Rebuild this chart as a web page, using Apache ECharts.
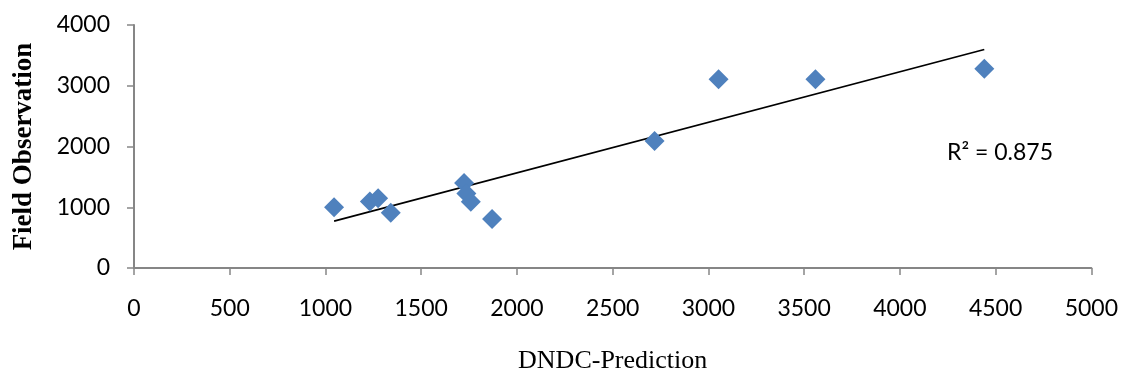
<!DOCTYPE html>
<html>
<head>
<meta charset="utf-8">
<script src="https://cdn.jsdelivr.net/npm/echarts@6/dist/echarts.min.js"></script>
<style>
html,body{margin:0;padding:0;background:#fff;}
#c{width:1121px;height:379px;}
</style>
</head>
<body>
<div id="c"></div>
<script>
const dndcPrediction = [1045, 1232, 1275, 1341, 1724, 1736, 1759, 1870, 2719, 3053, 3559, 4441];
const fieldObservation = [1000, 1095, 1150, 910, 1400, 1225, 1090, 805, 2090, 3105, 3105, 3280];
const xTicks = [0, 500, 1000, 1500, 2000, 2500, 3000, 3500, 4000, 4500, 5000];
const yTicks = [0, 1000, 2000, 3000, 4000];
const r2Label = 'R² = 0.875';

const pts = dndcPrediction.map((x, i) => [x, fieldObservation[i]]);
const n = pts.length;
const mx = dndcPrediction.reduce((a, b) => a + b, 0) / n;
const my = fieldObservation.reduce((a, b) => a + b, 0) / n;
let sxy = 0, sxx = 0;
pts.forEach(([x, y]) => { sxy += (x - mx) * (y - my); sxx += (x - mx) * (x - mx); });
const slope = sxy / sxx, intercept = my - slope * mx;
const xmin = Math.min(...dndcPrediction), xmax = Math.max(...dndcPrediction);
const trend = [[xmin, intercept + slope * xmin], [xmax, intercept + slope * xmax]];

const axisCol = '#868686';
const tickFont = {fontFamily: 'Lato', fontSize: 23, lineHeight: 23, color: '#000', formatter: v => String(v)};

const chart = echarts.init(document.getElementById('c'), null, {renderer: 'canvas'});
chart.setOption({
  animation: false,
  backgroundColor: '#fff',
  grid: {left: 134, right: 29, top: 25, bottom: 105, containLabel: false},
  xAxis: {
    type: 'value', min: xTicks[0], max: xTicks[xTicks.length - 1], interval: 500,
    splitLine: {show: false},
    axisLine: {show: true, lineStyle: {color: axisCol, width: 2}},
    axisTick: {show: true, inside: false, length: 7, lineStyle: {color: axisCol, width: 1.5}},
    axisLabel: Object.assign({margin: 29}, tickFont),
    name: 'DNDC-Prediction', nameLocation: 'middle', nameGap: 80,
    nameTextStyle: {fontFamily: 'Liberation Serif', fontSize: 26, lineHeight: 26, color: '#000'}
  },
  yAxis: {
    type: 'value', min: yTicks[0], max: yTicks[yTicks.length - 1], interval: 1000,
    splitLine: {show: false},
    axisLine: {show: true, lineStyle: {color: axisCol, width: 2}},
    axisTick: {show: true, inside: false, length: 7, lineStyle: {color: axisCol, width: 1.5}},
    axisLabel: Object.assign({margin: 24}, tickFont),
    name: 'Field Observation', nameLocation: 'middle', nameGap: 96,
    nameTextStyle: {fontFamily: 'Liberation Serif', fontSize: 27, lineHeight: 27, fontWeight: 'bold', color: '#000'}
  },
  series: [
    {
      type: 'line', data: trend, symbol: 'none',
      lineStyle: {color: '#000', width: 1.7}, z: 1, silent: true
    },
    {
      type: 'scatter', data: pts, symbol: 'diamond', symbolSize: 20,
      itemStyle: {color: '#4F81BD', opacity: 1}, z: 2
    }
  ],
  graphic: [{
    type: 'text', x: 947, y: 153,
    style: {text: r2Label, fontFamily: 'Lato', fontSize: 23, fill: '#000', verticalAlign: 'middle'}
  }]
});
</script>
</body>
</html>
